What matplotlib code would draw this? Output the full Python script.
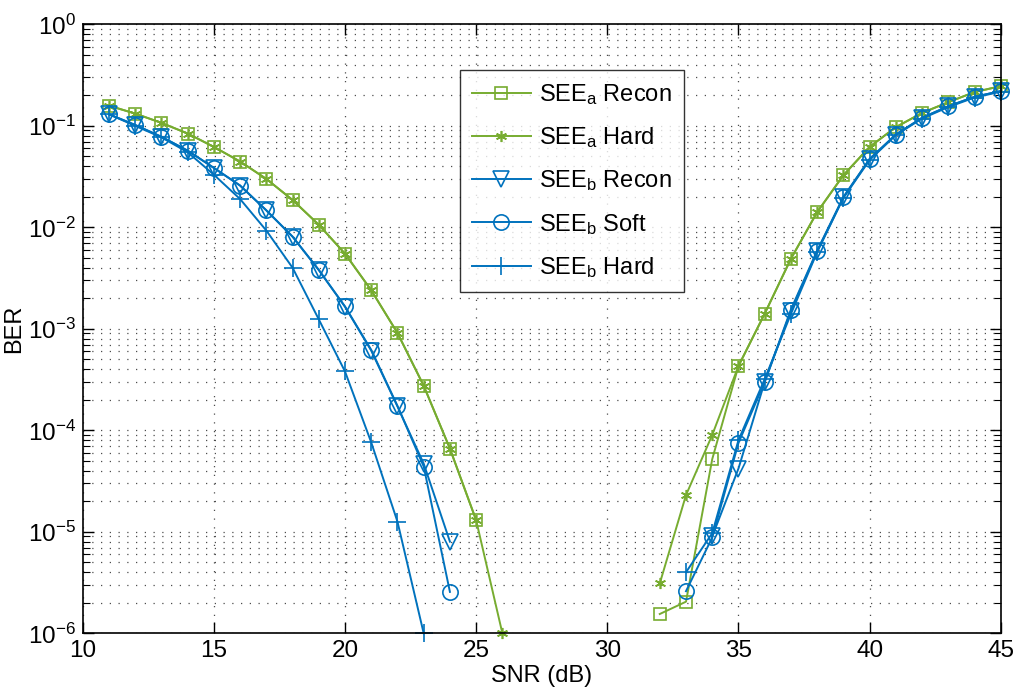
import numpy as np
import matplotlib
matplotlib.use("Agg")
import matplotlib.pyplot as plt
from matplotlib.ticker import LogLocator, NullFormatter, FixedLocator

plt.rcParams['font.family'] = ['Liberation Sans', 'DejaVu Sans']
plt.rcParams['mathtext.default'] = 'regular'

# ---- data ----
# SEE_a Recon
a_recon_left_x = [11, 12, 13, 14, 15, 16, 17, 18, 19, 20, 21, 22, 23, 24, 25]
a_recon_left = [0.158, 0.132, 0.107, 0.084, 0.062, 0.0445, 0.0300, 0.0186, 0.0106,
                0.0055, 0.0024, 9.1e-4, 2.75e-4, 6.6e-5, 1.3e-5]
a_recon_right_x = [32, 33, 34, 35, 36, 37, 38, 39, 40, 41, 42, 43, 44, 45]
a_recon_right = [1.55e-6, 2.05e-6, 5.2e-5, 4.3e-4, 1.41e-3, 4.9e-3, 0.0141, 0.0326,
                 0.062, 0.097, 0.134, 0.171, 0.215, 0.246]

# SEE_a Hard
a_hard_left_x = [11, 12, 13, 14, 15, 16, 17, 18, 19, 20, 21, 22, 23, 24, 25, 26]
a_hard_left = [0.158, 0.132, 0.107, 0.084, 0.062, 0.0445, 0.0300, 0.0186, 0.0106,
               0.0055, 0.0024, 9.1e-4, 2.75e-4, 6.6e-5, 1.3e-5, 1.0e-6]
a_hard_right_x = [32, 33, 34, 35, 36, 37, 38, 39, 40, 41, 42, 43, 44, 45]
a_hard_right = [3.1e-6, 2.3e-5, 9.0e-5, 4.3e-4, 1.41e-3, 4.9e-3, 0.0141, 0.0326,
                0.062, 0.097, 0.134, 0.171, 0.215, 0.246]

# SEE_b Recon
b_recon_left_x = [11, 12, 13, 14, 15, 16, 17, 18, 19, 20, 21, 22, 23, 24]
b_recon_left = [0.13, 0.102, 0.078, 0.057, 0.0385, 0.0258, 0.0147, 0.0081, 0.0038,
                0.00165, 6.1e-4, 1.72e-4, 4.7e-5, 8.0e-6]
b_recon_right_x = [34, 35, 36, 37, 38, 39, 40, 41, 42, 43, 44, 45]
b_recon_right = [9.0e-6, 4.2e-5, 3.0e-4, 1.5e-3, 5.8e-3, 0.0197, 0.047, 0.082,
                 0.12, 0.156, 0.193, 0.22]

# SEE_b Soft
b_soft_left_x = [11, 12, 13, 14, 15, 16, 17, 18, 19, 20, 21, 22, 23, 24]
b_soft_left = [0.13, 0.102, 0.078, 0.057, 0.0385, 0.0258, 0.0147, 0.0081, 0.0038,
               0.00166, 6.2e-4, 1.74e-4, 4.4e-5, 2.56e-6]
b_soft_right_x = [33, 34, 35, 36, 37, 38, 39, 40, 41, 42, 43, 44, 45]
b_soft_right = [2.6e-6, 8.8e-6, 7.5e-5, 3.0e-4, 1.55e-3, 5.9e-3, 0.0199, 0.0472,
                0.082, 0.12, 0.156, 0.193, 0.22]

# SEE_b Hard
b_hard_left_x = [11, 12, 13, 14, 15, 16, 17, 18, 19, 20, 21, 22, 23]
b_hard_left = [0.13, 0.10, 0.077, 0.055, 0.033, 0.019, 0.0093, 0.0040, 0.00124,
               3.8e-4, 7.6e-5, 1.26e-5, 1.0e-6]
b_hard_right_x = [33, 34, 35, 36, 37, 38, 39, 40, 41, 42, 43, 44, 45]
b_hard_right = [4.0e-6, 9.7e-6, 8.0e-5, 3.2e-4, 1.4e-3, 5.7e-3, 0.0195, 0.046,
                0.081, 0.118, 0.153, 0.19, 0.217]

labels = [r'SEE$_{a}$ Recon', r'SEE$_{a}$ Hard', r'SEE$_{b}$ Recon',
          r'SEE$_{b}$ Soft', r'SEE$_{b}$ Hard']
x_ticks = [10, 15, 20, 25, 30, 35, 40, 45]

green = '#77AC30'
blue = '#0072BD'

fig = plt.figure(figsize=(10.16, 6.89), dpi=100)
ax = fig.add_axes([0.0814, 0.0808, 0.9036, 0.8839])

lw = 1.4
series = [
    (a_recon_left_x, a_recon_left, a_recon_right_x, a_recon_right,
     dict(color=green, marker='s', ms=9, mfc='none', mew=1.2)),
    (a_hard_left_x, a_hard_left, a_hard_right_x, a_hard_right,
     dict(color=green, marker=(6, 2, 0), ms=8, mew=1.2)),
    (b_recon_left_x, b_recon_left, b_recon_right_x, b_recon_right,
     dict(color=blue, marker='v', ms=11, mfc='none', mew=1.2)),
    (b_soft_left_x, b_soft_left, b_soft_right_x, b_soft_right,
     dict(color=blue, marker='o', ms=11, mfc='none', mew=1.2)),
    (b_hard_left_x, b_hard_left, b_hard_right_x, b_hard_right,
     dict(color=blue, marker='+', ms=13, mew=1.2)),
]

handles = []
for (xl, yl, xr, yr, st), lab in zip(series, labels):
    h, = ax.plot(xl, yl, lw=lw, label=lab, clip_on=False, **st)
    ax.plot(xr, yr, lw=lw, clip_on=False, **st)
    handles.append(h)

ax.set_yscale('log')
ax.set_xlim(10, 45)
ax.set_ylim(1e-6, 1)
ax.xaxis.set_major_locator(FixedLocator(x_ticks))
ax.yaxis.set_major_locator(LogLocator(base=10, numticks=10))
ax.yaxis.set_minor_locator(LogLocator(base=10, subs=np.arange(2, 10), numticks=10))
ax.yaxis.set_minor_formatter(NullFormatter())

gstyle = dict(linestyle=(0, (1, 6)), color='0.3', lw=0.9)
ax.grid(True, which='major', axis='both', **gstyle)
ax.grid(True, which='minor', axis='y', **gstyle)
ax.set_axisbelow(True)

ax.tick_params(which='both', direction='in', top=True, right=True, labelsize=17.5)
ax.tick_params(which='major', length=8, width=1.0, pad=5)
ax.tick_params(which='minor', length=5, width=0.8)
for sp in ax.spines.values():
    sp.set_linewidth(1.2)

ax.set_xlabel('SNR (dB)', fontsize=17, labelpad=2)
ax.set_ylabel('BER', fontsize=17, labelpad=2)

leg = ax.legend(handles=handles, loc='upper left', bbox_to_anchor=(0.411, 0.925),
                fontsize=17, frameon=True, fancybox=False, edgecolor='black',
                handlelength=2.5, labelspacing=0.78, borderpad=0.5,
                handletextpad=0.35, borderaxespad=0)
leg.get_frame().set_linewidth(1.0)
leg.set_zorder(10)

fig.savefig('out.png', dpi=100)
